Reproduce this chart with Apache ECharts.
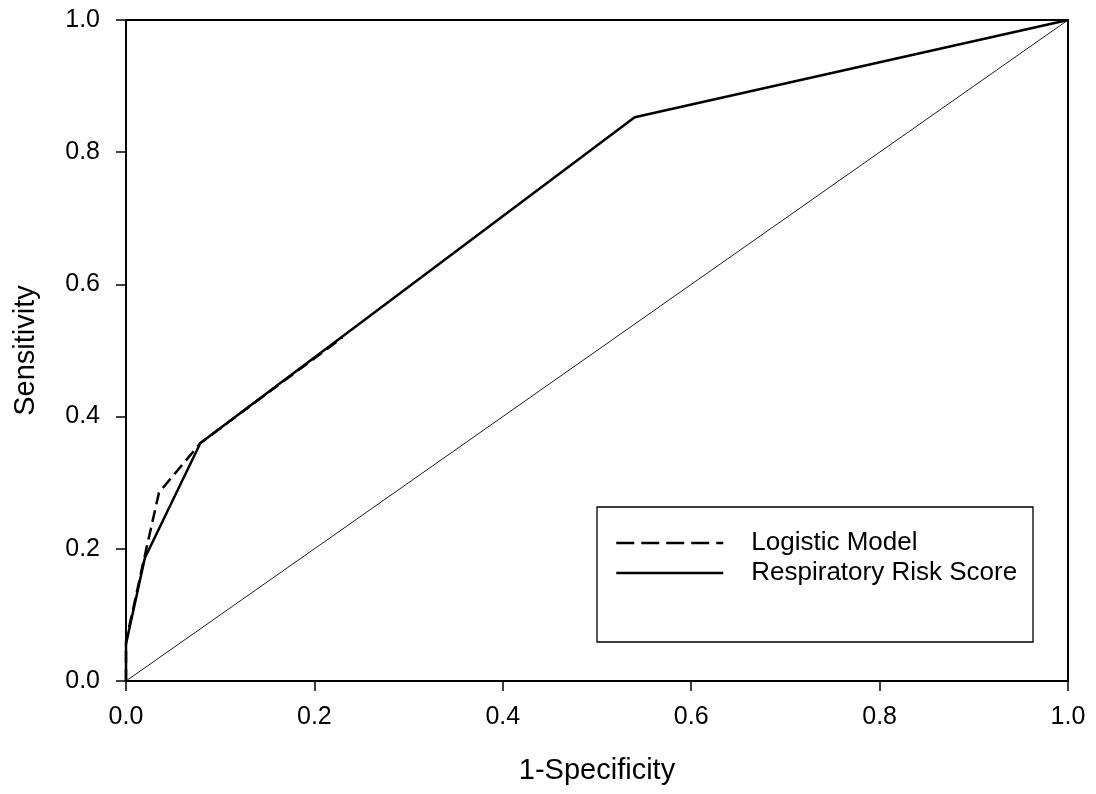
<!DOCTYPE html>
<html>
<head>
<meta charset="utf-8">
<script src="https://cdn.jsdelivr.net/npm/echarts@6/dist/echarts.min.js"></script>
<style>
  html, body { margin: 0; padding: 0; background: #fff; }
  #roc { width: 1096px; height: 794px; }
</style>
</head>
<body>
<div id="roc"></div>
<script>
// ROC curve points, [1-specificity, sensitivity]
var logisticPts = [[0, 0], [0, 0.06], [0.02, 0.19], [0.035, 0.285], [0.079, 0.36], [0.23, 0.52]];
var riskScorePts = [[0, 0], [0, 0.056], [0.02, 0.186], [0.079, 0.36], [0.54, 0.853], [1, 1]];
var refLine = [[0, 0], [1, 1]];
var ticks = [0, 0.2, 0.4, 0.6, 0.8, 1.0];
var seriesNames = ['Logistic Model', 'Respiratory Risk Score'];

var FONT = '"Liberation Sans", Arial, sans-serif';

var chart = echarts.init(document.getElementById('roc'));

function axis(name, gap, labelMargin) {
  return {
    type: 'value',
    min: ticks[0],
    max: ticks[ticks.length - 1],
    interval: 0.2,
    name: name,
    nameLocation: 'middle',
    nameGap: gap,
    nameTextStyle: { color: '#000', fontSize: 29, fontFamily: FONT },
    axisLine: { show: true, lineStyle: { color: '#000', width: 2 } },
    axisTick: { show: true, inside: false, length: 10, lineStyle: { color: '#000', width: 1.5 } },
    axisLabel: {
      color: '#000', fontSize: 25, fontFamily: FONT, margin: labelMargin,
      formatter: function (v) { return v.toFixed(1); }
    },
    splitLine: { show: false }
  };
}

chart.setOption({
  animation: false,
  backgroundColor: '#fff',
  grid: {
    left: 126, right: 28, top: 20, bottom: 113,
    show: true, borderColor: '#000', borderWidth: 2, backgroundColor: 'transparent'
  },
  xAxis: axis('1-Specificity', 75, 24),
  yAxis: axis('Sensitivity', 86, 26),
  legend: {
    orient: 'vertical',
    left: 615,
    top: 530,
    itemWidth: 107,
    itemHeight: 14,
    itemGap: 4,
    padding: 0,
    itemStyle: { color: 'transparent', borderWidth: 0, opacity: 0 },
    textStyle: { color: '#000', fontSize: 26, fontFamily: FONT, lineHeight: 26, padding: [0, 0, 0, 23] },
    data: [
      { name: seriesNames[0], lineStyle: { type: [18, 7], width: 2.5, color: '#000' } },
      { name: seriesNames[1], lineStyle: { type: 'solid', width: 2.5, color: '#000' } }
    ]
  },
  graphic: [{
    type: 'rect',
    shape: { x: 597, y: 507, width: 436, height: 135 },
    style: { fill: 'none', stroke: '#000', lineWidth: 1.3 },
    z: 10
  }],
  series: [
    {
      name: 'reference',
      type: 'line',
      data: refLine,
      symbol: 'none',
      silent: true,
      lineStyle: { color: '#000', width: 0.9 }
    },
    {
      name: seriesNames[0],
      type: 'line',
      data: logisticPts,
      symbol: 'none',
      lineStyle: { color: '#000', width: 2.5, type: [12, 6] },
      itemStyle: { color: '#000' }
    },
    {
      name: seriesNames[1],
      type: 'line',
      data: riskScorePts,
      symbol: 'none',
      lineStyle: { color: '#000', width: 2.5, type: 'solid' },
      itemStyle: { color: '#000' }
    }
  ]
});
</script>
</body>
</html>
